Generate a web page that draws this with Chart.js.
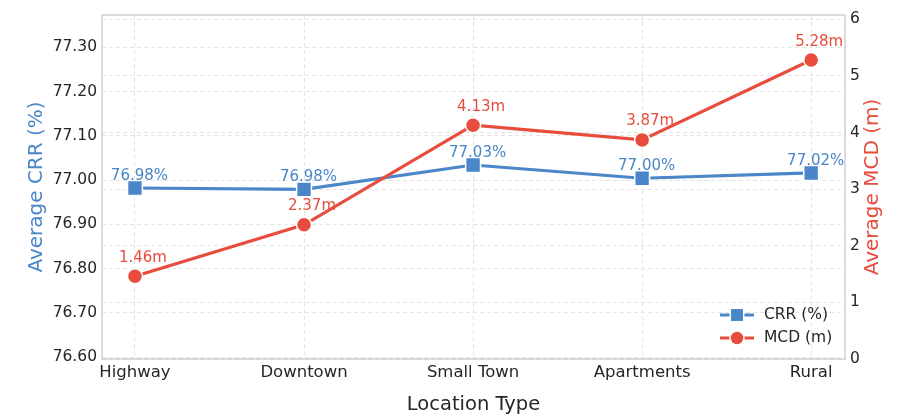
<!DOCTYPE html>
<html><head><meta charset="utf-8">
<script src="https://cdn.jsdelivr.net/npm/chart.js@4/dist/chart.umd.min.js"></script>
<style>html,body{margin:0;padding:0;background:#fff}#wrap{width:908px;height:420px;position:relative}</style>
</head><body><div id="wrap"><canvas id="c" width="908" height="420"></canvas></div>
<script>
const categories = ['Highway', 'Downtown', 'Small Town', 'Apartments', 'Rural'];
const crrValues = [76.982, 76.979, 77.034, 77.004, 77.016];
const crrLabels = ['76.98%', '76.98%', '77.03%', '77.00%', '77.02%'];
const mcdValues = [1.46, 2.37, 4.13, 3.87, 5.28];
const mcdLabels = ['1.46m', '2.37m', '4.13m', '3.87m', '5.28m'];
const crrTicks = [76.60, 76.70, 76.80, 76.90, 77.00, 77.10, 77.20, 77.30];
const mcdTicks = [0, 1, 2, 3, 4, 5, 6];
const rightTitle = 'Average MCD (m)';

const BLUE = '#4a86c8';
const RED = '#e74c3c';
const TXT = '#262626';
const GRID = '#e4e4e4';
const FONT = 'DejaVu Sans';

const frame = {
  id: 'frame',
  afterDraw(chart) {
    const {ctx, chartArea: a} = chart;
    ctx.save();
    ctx.strokeStyle = '#cfcfcf';
    ctx.lineWidth = 1.5;
    ctx.strokeRect(a.left, a.top, a.right - a.left, a.bottom - a.top);
    ctx.restore();
  }
};

const rightTitlePlugin = {
  id: 'rightTitle',
  afterDraw(chart) {
    const {ctx, chartArea: a} = chart;
    ctx.save();
    ctx.translate(a.right + 28, (a.top + a.bottom) / 2);
    ctx.rotate(-Math.PI / 2);
    ctx.fillStyle = RED;
    ctx.font = '20px "' + FONT + '"';
    ctx.textAlign = 'center';
    ctx.textBaseline = 'middle';
    ctx.fillText(rightTitle, 0, 0);
    ctx.restore();
  }
};

const dataLabels = {
  id: 'dataLabels',
  afterDatasetsDraw(chart) {
    const {ctx} = chart;
    const sets = [
      {idx: 0, labels: crrLabels, color: BLUE, dx: 4.5, dy: -8},
      {idx: 1, labels: mcdLabels, color: RED, dx: 8, dy: -14.5}
    ];
    ctx.save();
    ctx.font = '15px "' + FONT + '"';
    ctx.textAlign = 'center';
    ctx.textBaseline = 'alphabetic';
    sets.forEach(s => {
      const meta = chart.getDatasetMeta(s.idx);
      ctx.fillStyle = s.color;
      meta.data.forEach((pt, i) => {
        ctx.fillText(s.labels[i], pt.x + s.dx, pt.y + s.dy);
      });
    });
    ctx.restore();
  }
};

const customLegend = {
  id: 'customLegend',
  afterDraw(chart) {
    const {ctx, chartArea: a} = chart;
    const rows = [
      {ds: chart.data.datasets[0], y: a.bottom - 44},
      {ds: chart.data.datasets[1], y: a.bottom - 21}
    ];
    ctx.save();
    rows.forEach(r => {
      const x0 = a.right - 125, x1 = a.right - 91, xm = a.right - 108;
      ctx.strokeStyle = r.ds.borderColor;
      ctx.lineWidth = 3.2;
      ctx.setLineDash([]);
      ctx.beginPath();
      ctx.moveTo(x0, r.y);
      ctx.lineTo(x1, r.y);
      ctx.stroke();
      ctx.fillStyle = r.ds.borderColor;
      ctx.strokeStyle = '#ffffff';
      ctx.lineWidth = 1.5;
      Chart.helpers.drawPoint(ctx, {
        pointStyle: r.ds.pointStyle,
        radius: r.ds.pointStyle === 'rect' ? 9.5 : 7,
        rotation: 0,
        borderWidth: 1.5
      }, xm, r.y);
      ctx.fillStyle = TXT;
      ctx.font = '15.5px "' + FONT + '"';
      ctx.textAlign = 'left';
      ctx.textBaseline = 'middle';
      ctx.fillText(r.ds.label, a.right - 81, r.y);
    });
    ctx.restore();
  }
};

new Chart(document.getElementById('c'), {
  type: 'line',
  data: {
    datasets: [
      {
        label: 'CRR (%)',
        data: crrValues.map((v, i) => ({x: i, y: v})),
        yAxisID: 'y',
        borderColor: BLUE,
        backgroundColor: BLUE,
        borderWidth: 3.2,
        pointStyle: 'rect',
        pointRadius: 10.5,
        pointBackgroundColor: BLUE,
        pointBorderColor: '#ffffff',
        pointBorderWidth: 1.5,
        tension: 0,
        order: 1
      },
      {
        label: 'MCD (m)',
        data: mcdValues.map((v, i) => ({x: i, y: v})),
        yAxisID: 'y1',
        borderColor: RED,
        backgroundColor: RED,
        borderWidth: 3.2,
        pointStyle: 'circle',
        pointRadius: 7.5,
        pointBackgroundColor: RED,
        pointBorderColor: '#ffffff',
        pointBorderWidth: 1.5,
        tension: 0,
        order: 0
      }
    ]
  },
  options: {
    responsive: false,
    animation: false,
    devicePixelRatio: 1,
    layout: {padding: {top: 15, left: 0, right: 0, bottom: 0}},
    plugins: {legend: {display: false}, tooltip: {enabled: false}},
    scales: {
      x: {
        type: 'linear',
        min: -0.195,
        max: 4.2,
        afterBuildTicks: s => { s.ticks = categories.map((_, i) => ({value: i})); },
        ticks: {
          callback: v => categories[v],
          font: {family: FONT, size: 16.5},
          color: TXT,
          padding: 4,
          maxRotation: 0,
          autoSkip: false
        },
        grid: {color: GRID, lineWidth: 1, drawTicks: false},
        border: {display: false, dash: [4, 3]},
        title: {display: true, text: 'Location Type', color: TXT,
                font: {family: FONT, size: 19.5}, padding: {top: 0, bottom: 3}},
        afterFit: s => { s.height = 61; }
      },
      y: {
        type: 'linear',
        position: 'left',
        min: 76.5955,
        max: 77.373,
        afterBuildTicks: s => { s.ticks = crrTicks.map(v => ({value: v})); },
        ticks: {
          callback: v => Number(v).toFixed(2),
          font: {family: FONT, size: 15.5},
          color: TXT,
          padding: 5
        },
        grid: {color: GRID, lineWidth: 1, drawTicks: false},
        border: {display: false, dash: [4, 3]},
        title: {display: true, text: 'Average CRR (%)', color: BLUE,
                font: {family: FONT, size: 20}, padding: {top: 25, bottom: 0}},
        afterFit: s => { s.width = 102; }
      },
      y1: {
        type: 'linear',
        position: 'right',
        min: 0,
        max: 6.076,
        afterBuildTicks: s => { s.ticks = mcdTicks.map(v => ({value: v})); },
        ticks: {
          callback: v => String(v),
          font: {family: FONT, size: 15.5},
          color: TXT,
          padding: 5
        },
        grid: {color: GRID, lineWidth: 1, drawTicks: false},
        border: {display: false, dash: [4, 3]},
        title: {display: false},
        afterFit: s => { s.width = 63; }
      }
    }
  },
  plugins: [frame, dataLabels, customLegend, rightTitlePlugin]
});
</script>
</body></html>
